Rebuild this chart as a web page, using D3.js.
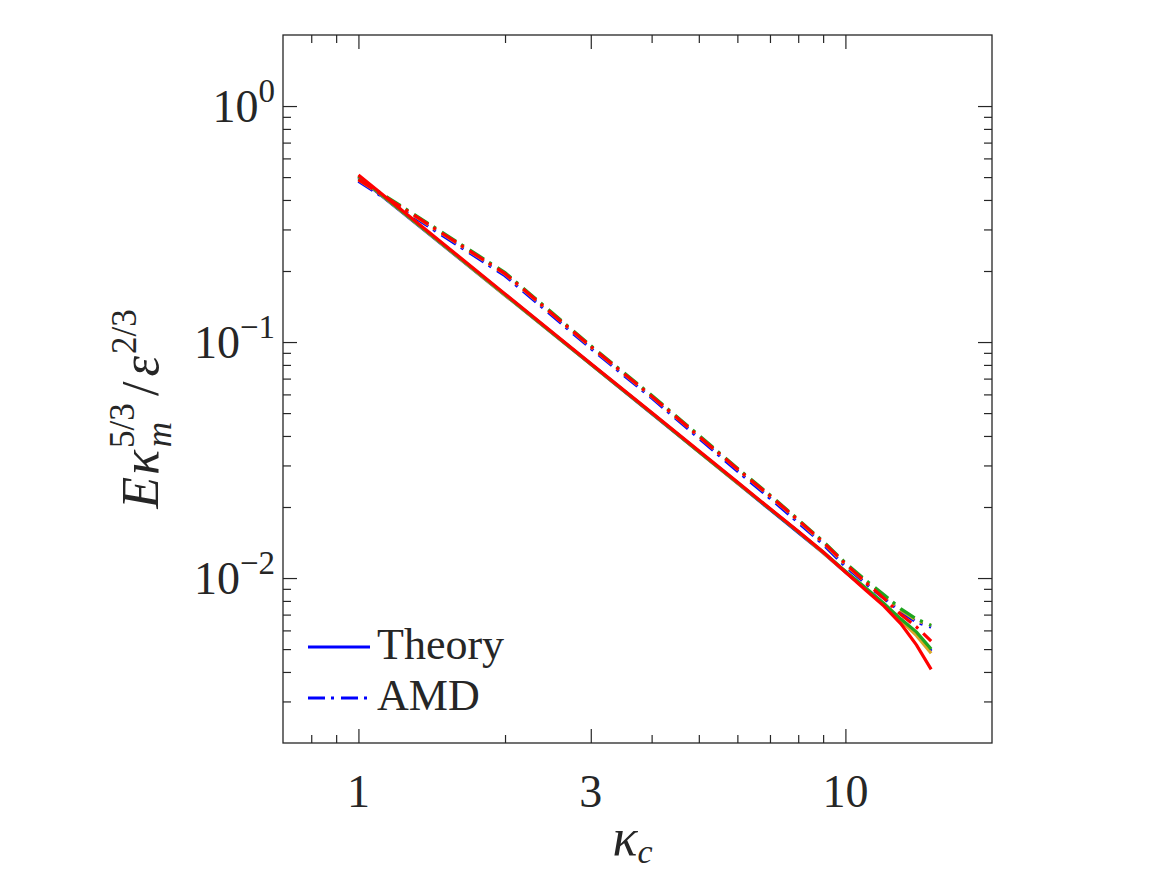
<!DOCTYPE html>
<html>
<head>
<meta charset="utf-8">
<script src="https://cdn.jsdelivr.net/npm/d3@7"></script>
<style>
    body { margin: 0; background: #fff; }
    #chart-area { width: 1167px; height: 875px; }
    text { font-family: "Liberation Serif", "DejaVu Serif", serif; fill: #262626; }
</style>
</head>
<body>
<div id="chart-area"></div>
<script>

// wavenumbers
var kc = [1, 2, 3, 4, 5, 6, 7, 8, 9, 10, 11, 12, 13, 14, 15];

// theory curves (solid)
var theoryBlue  = [0.500, 0.158, 0.0805, 0.0498, 0.0343, 0.0253, 0.0195, 0.0156, 0.0128, 0.0106, 0.0090, 0.0077, 0.0066, 0.0058, 0.0049];
var theoryGold  = [0.503, 0.158, 0.0806, 0.0499, 0.0343, 0.0253, 0.0196, 0.0157, 0.0128, 0.0106, 0.0090, 0.0077, 0.0066, 0.0057, 0.0048];
var theoryGreen = [0.505, 0.159, 0.0808, 0.0500, 0.0344, 0.0254, 0.0196, 0.0157, 0.0129, 0.0107, 0.0091, 0.0078, 0.0067, 0.0059, 0.0050];
var theoryRed   = [0.510, 0.160, 0.0812, 0.0503, 0.0346, 0.0255, 0.0197, 0.0158, 0.0129, 0.0106, 0.0089, 0.0076, 0.0064, 0.0052, 0.0041];

// AMD curves (dash-dot)
var amdBlue  = [0.480, 0.191, 0.0940, 0.0580, 0.0392, 0.0284, 0.0218, 0.0172, 0.0139, 0.0112, 0.0095, 0.0082, 0.0072, 0.0065, 0.0062];
var amdGold  = [0.486, 0.194, 0.0953, 0.0588, 0.0398, 0.0289, 0.0222, 0.0175, 0.0141, 0.0114, 0.0096, 0.0083, 0.0073, 0.0066, 0.0063];
var amdGreen = [0.492, 0.197, 0.0965, 0.0595, 0.0403, 0.0292, 0.0225, 0.0177, 0.0143, 0.0116, 0.0098, 0.0085, 0.0074, 0.0067, 0.0063];
var amdRed   = [0.488, 0.195, 0.0957, 0.0590, 0.0399, 0.0290, 0.0223, 0.0176, 0.0142, 0.0115, 0.0096, 0.0082, 0.0070, 0.0062, 0.0054];

// axis ticks
var xMajor = [1, 3, 10];
var xMajorLabels = ["1", "3", "10"];
var xMinor = [0.8, 0.9, 2, 4, 5, 6, 7, 8, 9];
var yMajor = [1, 0.1, 0.01];
var yMajorExp = ["0", "\u22121", "\u22122"];
var yMinor = [0.003, 0.004, 0.005, 0.006, 0.007, 0.008, 0.009,
              0.02, 0.03, 0.04, 0.05, 0.06, 0.07, 0.08, 0.09,
              0.2, 0.3, 0.4, 0.5, 0.6, 0.7, 0.8, 0.9];

var legendNames = ["Theory", "AMD"];

SpectrumVis = function(_parentElement){
    this.parentElement = _parentElement;
    this.initVis();
}

SpectrumVis.prototype.initVis = function() {
    var vis = this;

    vis.margin = {top: 35, right: 175, bottom: 132, left: 283};
    vis.width = 1167 - vis.margin.left - vis.margin.right;
    vis.height = 875 - vis.margin.top - vis.margin.bottom;

    vis.svg = d3.select("#" + vis.parentElement).append("svg")
        .attr("width", 1167)
        .attr("height", 875);

    vis.g = vis.svg.append("g")
        .attr("transform", "translate(" + vis.margin.left + "," + vis.margin.top + ")");

    vis.x = d3.scaleLog().domain([0.7, 20]).range([0, vis.width]);
    vis.y = d3.scaleLog().domain([0.002, 2]).range([vis.height, 0]);

    vis.drawAxes();
    vis.drawLines();
    vis.drawLegend();
}

SpectrumVis.prototype.drawAxes = function() {
    var vis = this;
    var major = 14, minor = 8;

    function tickAxis(axisFn, scale, vals, len, transform) {
        vis.g.append("g")
            .attr("class", "ticks")
            .attr("transform", transform)
            .call(axisFn(scale).tickValues(vals).tickSize(-len).tickFormat(""))
            .call(g => g.select(".domain").remove())
            .call(g => g.selectAll("line").attr("stroke", "#262626").attr("stroke-width", 1.2));
    }

    tickAxis(d3.axisBottom, vis.x, xMajor, major, "translate(0," + vis.height + ")");
    tickAxis(d3.axisBottom, vis.x, xMinor, minor, "translate(0," + vis.height + ")");
    tickAxis(d3.axisTop, vis.x, xMajor, major, "translate(0,0)");
    tickAxis(d3.axisTop, vis.x, xMinor, minor, "translate(0,0)");
    tickAxis(d3.axisLeft, vis.y, yMajor, major, "translate(0,0)");
    tickAxis(d3.axisLeft, vis.y, yMinor, minor, "translate(0,0)");
    tickAxis(d3.axisRight, vis.y, yMajor, major, "translate(" + vis.width + ",0)");
    tickAxis(d3.axisRight, vis.y, yMinor, minor, "translate(" + vis.width + ",0)");

    // box
    vis.g.append("rect")
        .attr("width", vis.width)
        .attr("height", vis.height)
        .attr("fill", "none")
        .attr("stroke", "#262626")
        .attr("stroke-width", 1.3);

    // x tick labels
    vis.g.selectAll(".xlab")
        .data(xMajor)
        .enter().append("text")
        .attr("class", "xlab")
        .attr("x", d => vis.x(d))
        .attr("y", vis.height + 64)
        .attr("text-anchor", "middle")
        .attr("font-size", 46)
        .text((d, i) => xMajorLabels[i]);

    // y tick labels 10^n
    var ylab = vis.g.selectAll(".ylab")
        .data(yMajor)
        .enter().append("text")
        .attr("class", "ylab")
        .attr("x", -8)
        .attr("y", d => vis.y(d) + 16)
        .attr("text-anchor", "end")
        .attr("font-size", 46);
    ylab.append("tspan").text("10");
    ylab.append("tspan")
        .attr("dy", -20)
        .attr("font-size", 33)
        .text((d, i) => yMajorExp[i]);

    // x axis label
    var xl = vis.g.append("text")
        .attr("x", vis.width / 2 - 5)
        .attr("y", vis.height + 112)
        .attr("text-anchor", "middle")
        .attr("font-size", 52);
    xl.append("tspan").attr("font-style", "italic").text("\u03ba");
    xl.append("tspan").attr("font-style", "italic").attr("font-size", 34).attr("dy", 8).text("c");

    // y axis label
    var yl = vis.g.append("text")
        .attr("transform", "translate(-125," + (vis.height / 2 + 20) + ") rotate(-90)")
        .attr("text-anchor", "middle")
        .attr("font-size", 52);
    yl.append("tspan").attr("font-style", "italic").text("E");
    yl.append("tspan").attr("font-style", "italic").attr("dx", 2).text("\u03ba");
    yl.append("tspan").attr("font-size", 35).attr("dx", 2).attr("dy", -24).text("5/3");
    yl.append("tspan").attr("font-size", 35).attr("font-style", "italic").attr("dx", -44).attr("dy", 37).text("m");
    yl.append("tspan").attr("dx", 26).attr("dy", -13).text("/");
    yl.append("tspan").attr("font-style", "italic").attr("dx", 5).text("\u03b5");
    yl.append("tspan").attr("font-size", 35).attr("dx", 2).attr("dy", -22).text("2/3");
}

SpectrumVis.prototype.drawLines = function() {
    var vis = this;

    var line = d3.line()
        .x((d, i) => vis.x(kc[i]))
        .y(d => vis.y(d));

    var series = [
        {vals: amdBlue, color: "#0000ff", dash: "17,6,3,7"},
        {vals: amdGold, color: "#d9a728", dash: "17,6,3,7"},
        {vals: amdGreen, color: "#1fa51f", dash: "17,6,3,7"},
        {vals: theoryBlue, color: "#0000ff", dash: null},
        {vals: theoryGold, color: "#d9a728", dash: null},
        {vals: theoryGreen, color: "#1fa51f", dash: null},
        {vals: amdRed, color: "#ff0000", dash: "17,6,3,7"},
        {vals: theoryRed, color: "#ff0000", dash: null}
    ];

    vis.g.selectAll(".series")
        .data(series)
        .enter().append("path")
        .attr("class", "series")
        .attr("d", d => line(d.vals))
        .attr("fill", "none")
        .attr("stroke", d => d.color)
        .attr("stroke-width", 3.2)
        .attr("stroke-dasharray", d => d.dash);
}

SpectrumVis.prototype.drawLegend = function() {
    var vis = this;

    var leg = vis.g.selectAll(".legend")
        .data(legendNames)
        .enter().append("g")
        .attr("class", "legend")
        .attr("transform", (d, i) => "translate(25," + (612 + i * 51) + ")");

    leg.append("line")
        .attr("x1", 0).attr("x2", 62)
        .attr("stroke", "#0000ff")
        .attr("stroke-width", 3)
        .attr("stroke-dasharray", (d, i) => i === 1 ? "17,6,3,7" : null);

    leg.append("text")
        .attr("x", 69)
        .attr("y", 12)
        .attr("font-size", 44)
        .text(d => d);
}

new SpectrumVis("chart-area");

</script>
</body>
</html>
